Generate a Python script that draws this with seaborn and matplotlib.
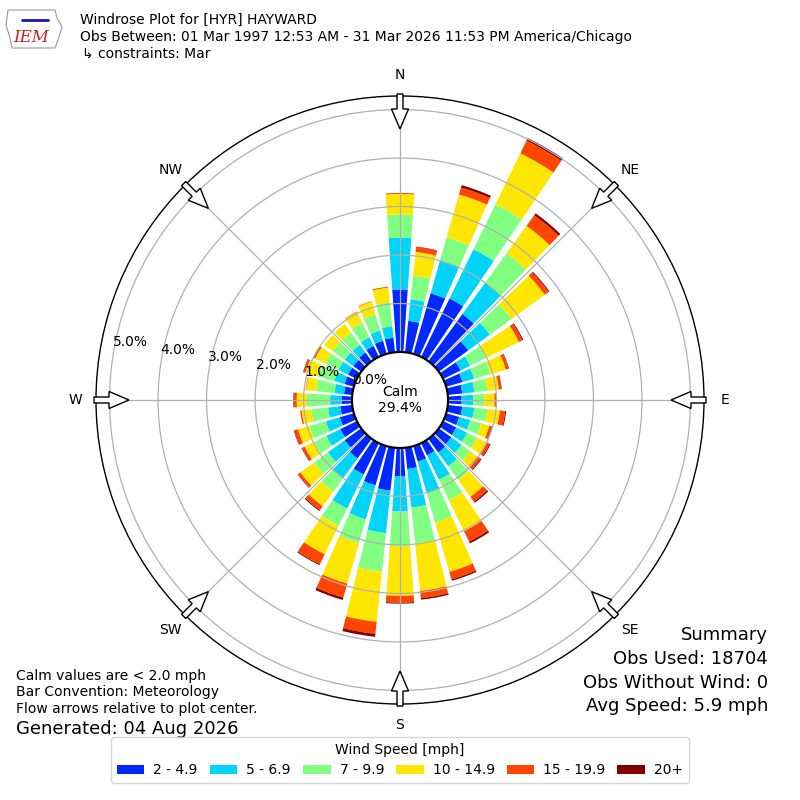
import numpy as np
import matplotlib
matplotlib.use("Agg")
import matplotlib.pyplot as plt
from matplotlib.patches import Circle, FancyArrow, Polygon
from matplotlib.transforms import offset_copy
import seaborn as sns

# wind directions (deg, meteorological) and speed bins
directions = np.arange(0, 360, 10)
speed_bins = ["2 - 4.9", "5 - 6.9", "7 - 9.9", "10 - 14.9", "15 - 19.9", "20+"]
bin_colors = ["#0028ff", "#00d4f8", "#80ff80", "#ffe600", "#ff4500", "#800000"]

# frequency (%) per direction for each speed bin
pct_2_5 = [1.29, 0.65, 1.30, 1.34, 1.20, 0.75, 0.40, 0.35, 0.30, 0.28, 0.30, 0.28,
           0.30, 0.32, 0.35, 0.28, 0.33, 0.44, 0.59, 0.89, 0.84, 0.72, 0.50, 0.42,
           0.38, 0.30, 0.25, 0.21, 0.17, 0.20, 0.20, 0.20, 0.22, 0.25, 0.28, 0.30]
pct_5_7 = [1.07, 0.45, 0.70, 1.13, 0.80, 0.55, 0.22, 0.25, 0.25, 0.24, 0.25, 0.24,
           0.25, 0.26, 0.35, 0.56, 0.69, 0.80, 0.72, 0.88, 0.73, 0.78, 0.50, 0.43,
           0.32, 0.30, 0.25, 0.24, 0.20, 0.22, 0.22, 0.22, 0.20, 0.20, 0.22, 0.24]
pct_7_10 = [0.48, 0.49, 0.50, 1.03, 0.75, 0.55, 0.38, 0.35, 0.27, 0.23, 0.27, 0.23,
            0.23, 0.22, 0.35, 0.47, 0.62, 0.74, 0.72, 0.80, 0.51, 0.40, 0.35, 0.35,
            0.28, 0.35, 0.35, 0.48, 0.38, 0.36, 0.30, 0.30, 0.30, 0.33, 0.35, 0.49]
pct_10_15 = [0.42, 0.49, 0.92, 1.17, 0.70, 0.85, 0.74, 0.33, 0.24, 0.21, 0.26, 0.18,
             0.22, 0.18, 0.43, 0.71, 1.06, 0.99, 1.02, 1.04, 0.87, 0.65, 0.37, 0.35,
             0.22, 0.25, 0.20, 0.21, 0.21, 0.26, 0.24, 0.22, 0.23, 0.25, 0.27, 0.31]
pct_15_20 = [0.02, 0.10, 0.15, 0.29, 0.27, 0.10, 0.08, 0.06, 0.05, 0.04, 0.11, 0.05,
             0.07, 0.09, 0.12, 0.24, 0.16, 0.15, 0.14, 0.25, 0.30, 0.23, 0.10, 0.06,
             0.06, 0.08, 0.03, 0.06, 0.01, 0.04, 0.04, 0.00, 0.00, 0.01, 0.01, 0.02]
pct_20_up = [0.00, 0.01, 0.05, 0.06, 0.05, 0.02, 0.02, 0.01, 0.01, 0.01, 0.02, 0.01,
             0.02, 0.02, 0.03, 0.04, 0.03, 0.03, 0.02, 0.06, 0.05, 0.02, 0.02, 0.01,
             0.01, 0.01, 0.00, 0.01, 0.00, 0.01, 0.00, 0.00, 0.00, 0.00, 0.00, 0.00]
series = [pct_2_5, pct_5_7, pct_7_10, pct_10_15, pct_15_20, pct_20_up]

calm_pct = 29.4
ring_values = [0, 1, 2, 3, 4, 5]
compass = ["N", "NE", "E", "SE", "S", "SW", "W", "NW"]

sns.set_theme(style="white")
plt.rcParams["font.family"] = ["DejaVu Sans"]
plt.rcParams["text.color"] = "black"
plt.rcParams["xtick.color"] = "black"
plt.rcParams["ytick.color"] = "black"
plt.rcParams["axes.labelcolor"] = "black"

fig = plt.figure(figsize=(8, 8), dpi=100)
ax = fig.add_axes([0.12, 0.12, 0.76, 0.76], projection="polar")
ax.set_theta_zero_location("N")
ax.set_theta_direction(-1)
ax.set_rorigin(-0.99)
ax.set_ylim(0, 5.28)

theta = np.deg2rad(directions)
bottom = np.zeros(len(directions))
handles = []
for vals, col, lab in zip(series, bin_colors, speed_bins):
    vals = np.array(vals)
    b = ax.bar(theta, vals, width=np.deg2rad(8), bottom=bottom, color=col,
               edgecolor="none", label=lab, zorder=1)
    handles.append(b)
    bottom = bottom + vals

# grid on top of the bars
ax.set_axisbelow(False)
ax.grid(True, color="#b0b0b0", linewidth=0.9)
ax.set_yticks(ring_values[1:])
ax.set_yticklabels([])
ax.set_thetagrids(range(0, 360, 45), labels=compass, fontsize=10)
ax.tick_params(axis="x", pad=2)
ax.spines["polar"].set_color("black")
ax.spines["polar"].set_linewidth(1.0)

# ring labels
lab_tr = offset_copy(ax.transData, fig=fig, x=17, y=12.5, units="dots")
for v in ring_values:
    ax.text(np.deg2rad(279), v, f"{v:.1f}%", transform=lab_tr, ha="center",
            va="center", fontsize=10, zorder=6)

# calm circle
ax.add_patch(Circle((0.5, 0.5), 48 / 608, transform=ax.transAxes, fc="white",
                    ec="black", lw=1.5, zorder=4, clip_on=False))
ax.text(0.5, 0.5, f"Calm\n{calm_pct:.1f}%", transform=ax.transAxes, ha="center",
        va="center", fontsize=10, multialignment="center", zorder=5)

# flow arrows pointing at the center
r_start, r_tip = 306 / 608, 271 / 608
for ang in range(0, 360, 45):
    s, c = np.sin(np.deg2rad(ang)), np.cos(np.deg2rad(ang))
    arr = FancyArrow(0.5 + r_start * s, 0.5 + r_start * c,
                     -(r_start - r_tip) * s, -(r_start - r_tip) * c,
                     width=6 / 608, head_width=17 / 608, head_length=20 / 608,
                     length_includes_head=True, transform=ax.transAxes,
                     fc="white", ec="black", lw=1.0, zorder=7, clip_on=False)
    ax.add_patch(arr)

# header text
fig.text(0.1, 0.975, "Windrose Plot for [HYR] HAYWARD", fontsize=10, va="center")
fig.text(0.1, 0.954, "Obs Between: 01 Mar 1997 12:53 AM - 31 Mar 2026 11:53 PM America/Chicago",
         fontsize=10, va="center")
fig.text(0.102, 0.9325, "↳ constraints: Mar", fontsize=10, va="center")

# simple logo
iowa = [(8, 10), (55, 10), (57, 18), (62, 27), (58, 40), (55, 48), (12, 48), (10, 38), (6, 25)]
fig.patches.append(Polygon([(x / 800, 1 - y / 800) for x, y in iowa], closed=True,
                           fc="none", ec="#999999", lw=0.8, transform=fig.transFigure))
fig.lines.append(plt.Line2D([22 / 800, 48 / 800], [1 - 20 / 800, 1 - 20 / 800],
                            color="#1a1aa6", lw=2, transform=fig.transFigure))
fig.text(31 / 800, 1 - 38 / 800, "IEM", color="#cc2222", fontsize=12, style="italic",
         family="DejaVu Serif", ha="center", va="center")

# footer text
fig.text(0.02, 0.155, "Calm values are < 2.0 mph", fontsize=10, va="center")
fig.text(0.02, 0.135, "Bar Convention: Meteorology", fontsize=10, va="center")
fig.text(0.02, 0.114, "Flow arrows relative to plot center.", fontsize=10, va="center")
fig.text(0.02, 0.089, "Generated: 04 Aug 2026", fontsize=13, va="center")

fig.text(0.96, 0.206, "Summary", fontsize=13, ha="right", va="center")
fig.text(0.96, 0.176, "Obs Used: 18704", fontsize=13, ha="right", va="center")
fig.text(0.96, 0.146, "Obs Without Wind: 0", fontsize=13, ha="right", va="center")
fig.text(0.96, 0.1175, "Avg Speed: 5.9 mph", fontsize=13, ha="right", va="center")

fig.legend(handles=handles, labels=speed_bins, loc="lower center",
           bbox_to_anchor=(0.5, 0.0125), ncol=6, fontsize=10,
           title="Wind Speed [mph]", title_fontsize=10, handlelength=2.0,
           handleheight=0.6, handletextpad=0.65, columnspacing=0.85)

fig.savefig("out.png", dpi=100)
